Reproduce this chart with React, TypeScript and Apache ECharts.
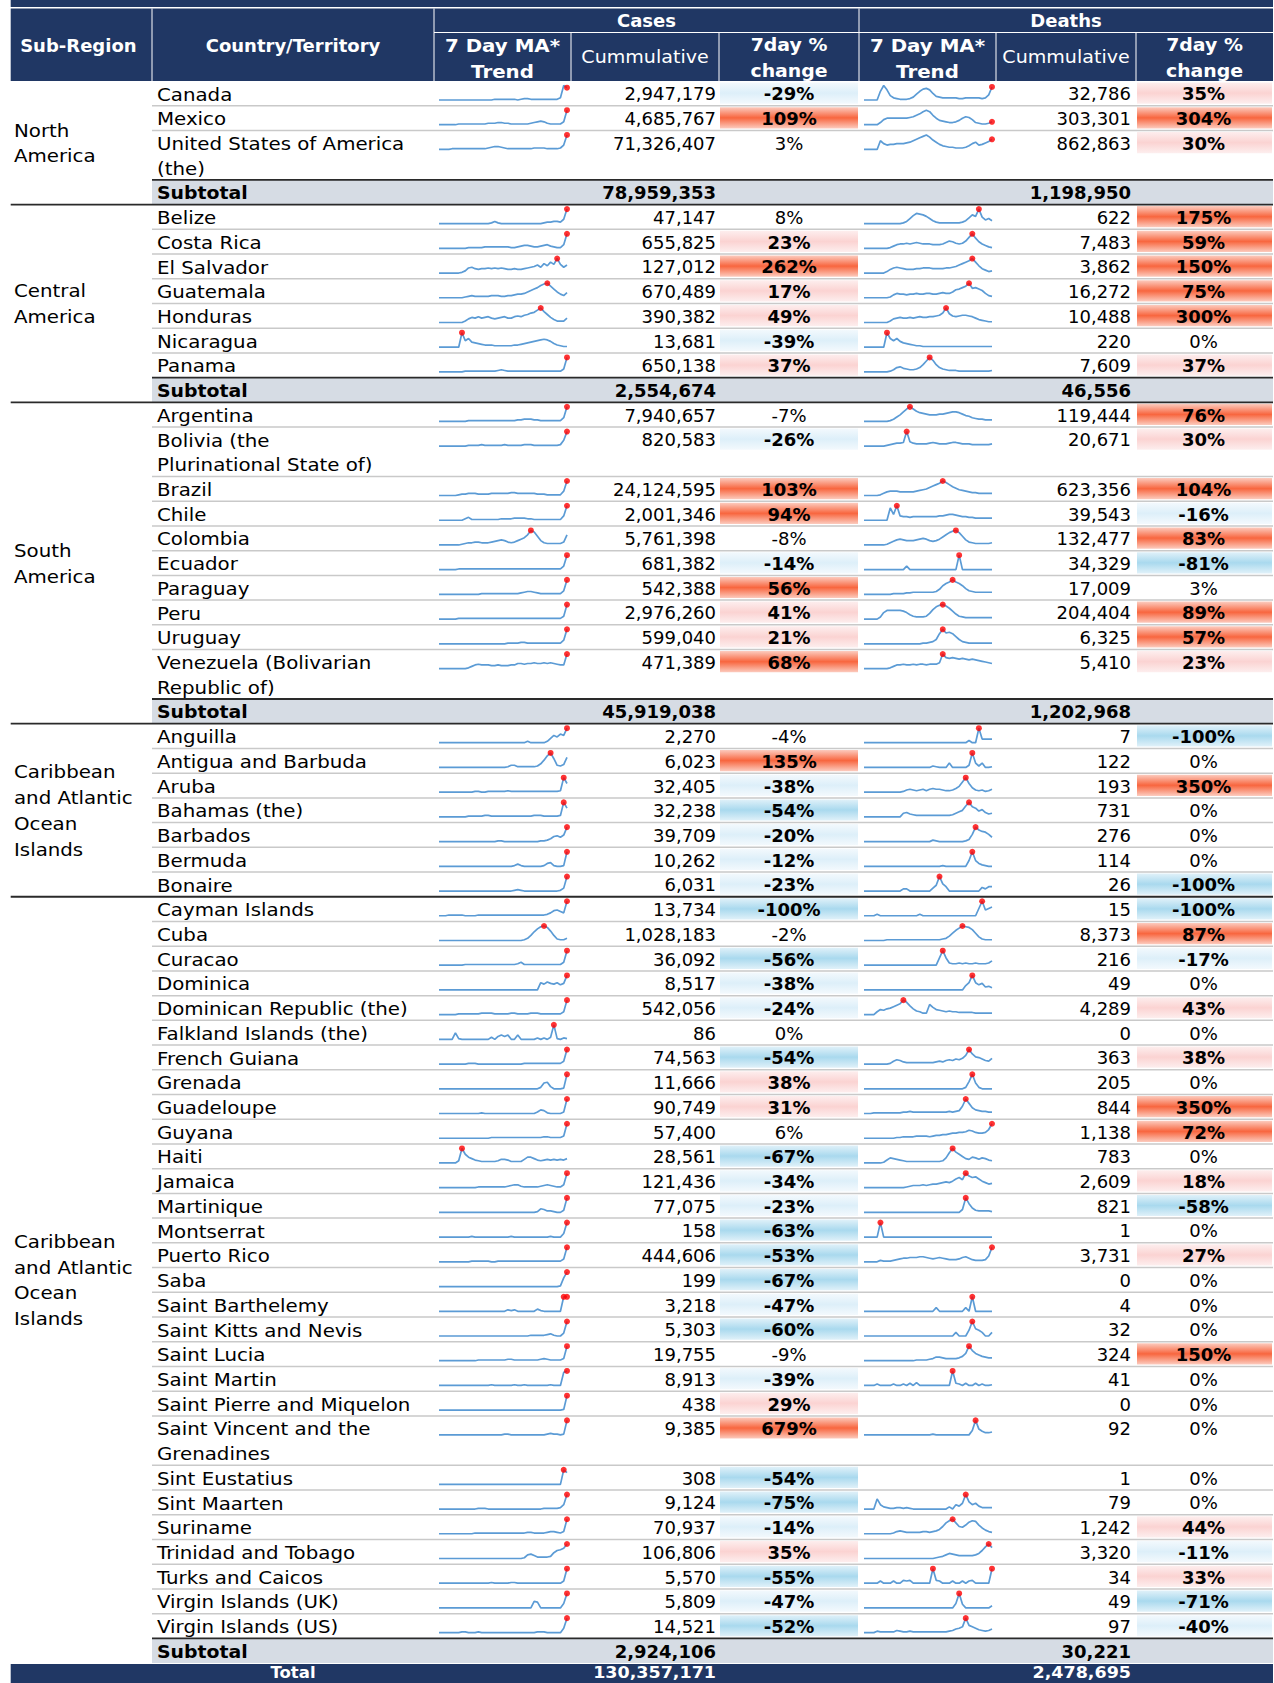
import React, { useEffect, useRef } from "react";
import * as echarts from "echarts";

// ---------------- DATA ----------------
const regionNames: string[] = [
  "North\nAmerica",
  "Central\nAmerica",
  "South\nAmerica",
  "Caribbean\nand Atlantic\nOcean\nIslands",
  "Caribbean\nand Atlantic\nOcean\nIslands",
];
const regionSizes: number[] = [3, 7, 10, 7, 29];
const regionMarker: string[] = ["last", "high", "high", "high", "high"];
const subtotalCases: (number | null)[] = [78959353, 2554674, 45919038, null, 2924106];
const subtotalDeaths: (number | null)[] = [1198950, 46556, 1202968, null, 30221];
const totalCases = 130357171;
const totalDeaths = 2478695;

const countries: string[] = [
  "Canada", "Mexico", "United States of America\n(the)",
  "Belize", "Costa Rica", "El Salvador", "Guatemala", "Honduras", "Nicaragua", "Panama",
  "Argentina", "Bolivia (the\nPlurinational State of)", "Brazil", "Chile", "Colombia", "Ecuador", "Paraguay", "Peru", "Uruguay", "Venezuela (Bolivarian\nRepublic of)",
  "Anguilla", "Antigua and Barbuda", "Aruba", "Bahamas (the)", "Barbados", "Bermuda", "Bonaire",
  "Cayman Islands", "Cuba", "Curacao", "Dominica", "Dominican Republic (the)", "Falkland Islands (the)", "French Guiana", "Grenada", "Guadeloupe", "Guyana",
  "Haiti", "Jamaica", "Martinique", "Montserrat", "Puerto Rico", "Saba", "Saint Barthelemy", "Saint Kitts and Nevis", "Saint Lucia", "Saint Martin",
  "Saint Pierre and Miquelon", "Saint Vincent and the\nGrenadines", "Sint Eustatius", "Sint Maarten", "Suriname", "Trinidad and Tobago", "Turks and Caicos", "Virgin Islands (UK)", "Virgin Islands (US)",
];

const cumCases: number[] = [
  2947179, 4685767, 71326407,
  47147, 655825, 127012, 670489, 390382, 13681, 650138,
  7940657, 820583, 24124595, 2001346, 5761398, 681382, 542388, 2976260, 599040, 471389,
  2270, 6023, 32405, 32238, 39709, 10262, 6031,
  13734, 1028183, 36092, 8517, 542056, 86, 74563, 11666, 90749, 57400,
  28561, 121436, 77075, 158, 444606, 199, 3218, 5303, 19755, 8913,
  438, 9385, 308, 9124, 70937, 106806, 5570, 5809, 14521,
];
const casesPct: number[] = [
  -29, 109, 3,
  8, 23, 262, 17, 49, -39, 37,
  -7, -26, 103, 94, -8, -14, 56, 41, 21, 68,
  -4, 135, -38, -54, -20, -12, -23,
  -100, -2, -56, -38, -24, 0, -54, 38, 31, 6,
  -67, -34, -23, -63, -53, -67, -47, -60, -9, -39,
  29, 679, -54, -75, -14, 35, -55, -47, -52,
];
const cumDeaths: number[] = [
  32786, 303301, 862863,
  622, 7483, 3862, 16272, 10488, 220, 7609,
  119444, 20671, 623356, 39543, 132477, 34329, 17009, 204404, 6325, 5410,
  7, 122, 193, 731, 276, 114, 26,
  15, 8373, 216, 49, 4289, 0, 363, 205, 844, 1138,
  783, 2609, 821, 1, 3731, 0, 4, 32, 324, 41,
  0, 92, 1, 79, 1242, 3320, 34, 49, 97,
];
const deathsPct: number[] = [
  35, 304, 30,
  175, 59, 150, 75, 300, 0, 37,
  76, 30, 104, -16, 83, -81, 3, 89, 57, 23,
  -100, 0, 350, 0, 0, 0, -100,
  -100, 87, -17, 0, 43, 0, 38, 0, 350, 72,
  0, 18, -58, 0, 27, 0, 0, 0, 150, 0,
  0, 0, 0, 0, 44, -11, 33, -71, -40,
];

// 7 day moving average trend (relative scale 0-20)
const casesTrend: number[][] = [
  [0,0,0,0,0,0,0,0,0,0, 0,0,0,0,0,0,0,1,1,1, 1,1,1,1,0,1,2,2,1,1, 1,1,1,1,1,1,1,3,20,17],
  [0,0,0,0,0,0,1,1,1,1, 1,1,1,1,1,2,2,2,3,3, 2,2,1,1,1,1,1,1,2,3, 4,5,4,2,1,1,1,1,4,20],
  [0,0,0,0,1,1,1,1,1,1, 1,1,1,1,1,2,3,4,4,3, 2,1,1,1,1,1,1,1,1,2, 2,2,2,1,1,1,1,2,6,20],
  [0,0,0,0,0,0,0,0,0,0, 0,0,0,0,0,0,1,3,1,0, 0,0,0,0,0,0,0,0,0,0, 0,0,1,2,2,3,3,2,6,20],
  [0,0,0,0,0,0,0,0,0,1, 1,1,1,1,2,2,2,2,2,2, 2,2,1,1,2,3,4,4,3,2, 2,3,4,5,3,2,1,1,5,20],
  [0,0,0,0,0,0,0,1,3,7, 8,6,5,6,6,7,6,7,6,7, 6,5,5,6,5,5,6,7,8,9, 11,8,13,10,15,12,20,12,8,11],
  [0,0,0,0,0,0,0,0,1,2, 3,2,2,2,2,2,3,3,3,2, 2,3,3,4,5,5,6,8,10,12, 14,17,19,20,16,12,8,5,3,7],
  [0,0,0,0,0,0,0,0,2,5, 7,6,8,6,7,8,6,5,6,7, 8,6,6,8,9,8,10,11,13,14, 17,20,15,11,7,4,2,2,2,6],
  [0,0,0,0,0,0,0,20,9,12, 7,6,5,4,3,3,3,2,2,2, 2,2,2,3,3,4,5,6,7,8, 9,10,11,10,8,5,3,2,1,1],
  [0,0,0,0,0,0,0,0,1,1, 1,1,1,1,1,1,1,1,2,3, 2,1,1,1,1,1,1,1,1,1, 1,1,1,1,1,1,1,1,4,20],
  [0,0,0,0,0,0,0,0,0,1, 1,1,1,1,1,1,1,1,1,1, 1,1,1,1,2,2,3,3,3,2, 2,1,1,1,1,1,1,1,5,20],
  [0,0,0,0,0,0,0,0,0,1, 1,1,1,2,1,1,1,1,1,1, 2,1,1,1,1,1,2,2,2,1, 1,1,1,1,1,1,1,2,8,20],
  [0,0,0,0,0,0,1,2,2,3, 3,3,2,2,2,2,3,3,3,3, 3,3,4,4,3,3,3,3,3,3, 2,2,2,1,1,1,1,1,6,20],
  [0,0,0,0,0,0,0,0,2,4, 1,1,1,1,1,1,1,1,1,2, 2,2,2,3,3,3,3,2,2,1, 1,1,1,1,1,1,1,1,6,20],
  [0,0,0,0,0,0,0,1,2,3, 3,4,4,3,3,3,4,5,6,7, 6,4,3,4,6,8,10,14,20,18, 12,6,3,2,2,2,2,2,4,14],
  [0,0,0,0,0,0,1,1,1,1, 1,1,1,1,1,1,1,1,1,1, 1,1,1,1,1,1,1,1,1,1, 1,1,1,1,1,1,1,1,5,20],
  [0,0,0,0,0,0,0,0,0,0, 0,0,0,1,1,1,1,1,1,1, 1,1,1,1,1,2,3,4,4,3, 2,1,1,1,1,1,1,1,5,20],
  [0,0,0,0,0,0,1,1,1,1, 1,1,1,1,1,1,1,1,1,1, 1,1,1,1,1,1,1,1,1,1, 1,1,1,1,1,1,1,1,4,20],
  [0,0,0,0,0,0,0,0,0,0, 0,0,0,0,0,0,0,0,0,0, 0,1,1,1,1,2,2,1,1,1, 1,1,1,1,1,1,1,1,5,20],
  [0,0,0,0,0,0,0,0,0,1, 3,5,6,5,5,5,4,4,5,4, 4,4,5,5,7,7,6,7,7,8, 7,7,8,7,8,7,6,5,5,20],
  [0,0,0,0,0,0,0,0,0,0, 0,0,0,0,0,0,0,0,0,0, 0,0,0,0,0,0,0,2,0,0, 0,0,0,2,6,10,8,12,10,20],
  [0,0,0,0,0,0,0,0,0,0, 0,0,0,0,0,0,0,0,0,0, 0,1,3,3,1,1,1,1,1,1, 2,5,10,16,20,12,3,2,4,14],
  [0,0,0,0,0,0,0,0,0,0, 0,1,1,0,0,1,1,1,1,1, 1,2,1,1,1,1,1,1,1,1, 1,1,1,1,1,1,1,2,20,12],
  [0,0,0,0,0,0,0,0,0,1, 1,1,1,1,2,2,1,1,1,1, 1,1,1,1,1,1,1,1,1,2, 2,2,1,1,1,1,1,2,20,12],
  [0,0,0,0,0,0,0,0,0,0, 0,0,0,0,0,0,0,0,1,1, 0,0,0,0,0,0,0,0,0,0, 0,1,1,2,4,7,8,6,9,20],
  [0,0,0,0,0,0,0,0,0,0, 0,0,0,0,0,0,0,0,0,0, 0,0,0,1,3,1,0,0,0,0, 0,0,1,4,5,1,0,0,1,20],
  [0,0,0,0,0,0,0,0,0,0, 0,0,0,0,0,0,0,0,0,0, 0,0,0,1,2,1,0,0,0,0, 0,0,0,0,0,0,0,1,4,20],
  [0,0,0,1,1,1,1,1,0,0, 0,0,1,1,1,1,1,1,1,1, 1,1,1,1,1,1,1,1,1,1, 1,1,1,2,4,7,8,6,4,20],
  [0,0,0,0,0,0,0,0,0,0, 0,0,0,0,0,0,0,0,0,0, 0,0,0,0,0,0,1,3,7,12, 16,19,20,18,13,7,2,1,1,3],
  [0,0,0,0,0,0,0,0,1,1, 1,1,1,1,1,1,1,1,1,1, 1,1,1,1,2,4,1,1,1,1, 1,1,1,1,1,1,1,1,4,20],
  [0,0,0,0,0,0,0,0,0,0, 0,0,0,0,0,0,0,0,0,0, 0,0,0,0,0,0,0,0,0,0, 0,10,8,11,9,8,10,7,9,20],
  [0,0,0,0,0,0,1,1,1,1, 1,1,1,2,2,2,2,1,1,1, 1,1,2,2,1,1,1,1,2,2, 2,1,1,1,1,1,1,1,4,20],
  [0,0,0,0,0,9,1,0,0,0, 0,0,0,0,0,0,3,0,4,6, 4,6,0,0,6,0,0,0,0,0, 2,0,2,0,3,20,1,0,2,1],
  [0,0,0,0,0,0,0,0,0,1, 1,1,0,0,0,0,0,0,0,0, 0,0,0,0,0,0,1,1,1,1, 1,1,1,1,1,1,1,1,4,20],
  [0,0,0,0,0,0,0,0,0,0, 0,0,0,0,0,0,0,0,0,0, 0,0,0,0,0,0,0,0,0,0, 0,2,8,9,3,0,0,0,1,20],
  [0,0,0,0,0,0,0,0,0,0, 0,0,0,1,0,0,0,0,0,0, 0,0,0,0,0,0,0,0,0,0, 2,5,4,1,0,0,0,0,2,20],
  [0,0,0,0,0,0,0,0,0,0, 0,0,0,0,0,0,1,1,1,1, 1,1,1,1,1,1,1,1,1,1, 1,1,2,2,1,1,1,1,3,20],
  [0,0,0,0,0,0,3,20,12,8, 6,4,3,2,2,2,2,2,3,5, 5,4,2,2,2,2,5,8,8,6, 4,3,4,5,4,5,4,5,4,6],
  [0,0,0,0,0,0,0,0,0,0, 0,0,1,1,1,1,1,1,1,1, 1,2,3,4,4,2,1,1,1,1, 1,2,3,4,3,2,1,1,4,20],
  [0,0,0,0,0,0,0,0,0,0, 0,0,0,0,0,0,0,0,0,0, 0,0,0,0,0,0,0,0,0,0, 1,5,4,2,2,1,0,0,3,20],
  [0,0,0,0,0,0,0,0,0,0, 1,0,0,0,0,0,0,0,0,0, 0,0,1,0,0,0,0,0,0,0, 0,0,0,0,1,0,0,0,5,20],
  [0,0,0,0,0,0,0,0,0,0, 1,1,1,1,1,1,0,0,1,1, 1,1,1,1,1,1,1,1,1,1, 1,1,1,1,1,1,1,1,4,20],
  [0,0,0,0,0,0,0,0,0,0, 0,0,0,0,0,0,0,0,0,0, 0,0,0,0,0,0,0,0,0,0, 0,0,0,0,0,0,0,1,12,20],
  [0,0,0,0,0,0,0,0,0,0, 0,0,0,0,0,0,0,0,0,0, 0,2,1,2,0,0,0,0,0,0, 3,1,0,0,0,0,0,0,20,20],
  [0,0,0,0,0,0,0,0,0,0, 0,0,0,0,0,0,0,0,0,0, 0,0,0,0,0,0,0,0,1,1, 1,1,1,2,3,1,0,0,4,20],
  [0,0,0,0,0,0,0,0,0,0, 0,0,1,1,1,1,1,1,1,1, 1,2,2,1,1,1,1,1,1,1, 1,2,3,2,1,1,1,1,3,20],
  [0,0,0,0,0,0,0,0,0,0, 0,0,0,0,0,0,1,0,0,0, 0,0,0,1,0,0,1,0,0,0, 0,0,0,0,1,0,0,0,18,20],
  [0,0,0,0,0,0,0,0,0,0, 0,0,0,0,0,0,0,0,0,0, 0,0,0,0,0,0,0,0,0,0, 0,0,0,0,0,0,0,0,1,20],
  [0,0,0,0,0,0,0,0,0,0, 0,0,0,0,0,0,0,0,0,0, 1,1,0,0,0,0,0,0,0,0, 0,0,0,1,2,1,1,0,1,20],
  [0,0,0,0,0,0,0,0,0,0, 0,0,0,0,0,0,0,0,0,0, 0,0,0,0,0,0,0,0,0,0, 0,0,0,0,0,0,0,0,20,16],
  [0,0,0,0,0,0,0,0,0,0, 0,0,1,1,1,0,0,0,0,0, 0,0,0,0,0,0,0,0,0,0, 0,0,1,1,1,1,1,2,6,20],
  [0,0,0,0,0,0,0,0,0,0, 0,1,1,1,1,1,1,1,1,1, 1,1,1,1,1,1,1,2,2,1, 1,1,1,2,3,3,2,1,3,20],
  [0,0,0,0,0,0,0,0,0,0, 0,0,0,0,0,0,0,0,0,0, 0,0,0,0,0,0,1,5,6,4, 2,2,2,2,3,8,11,12,14,20],
  [0,0,0,0,0,0,0,0,0,0, 0,0,0,0,0,0,1,0,0,0, 0,0,1,1,0,0,0,0,0,0, 0,0,0,0,0,0,0,0,3,20],
  [0,0,0,0,0,0,0,0,0,0, 0,0,0,0,0,0,0,0,0,0, 0,0,0,0,0,0,0,0,0,9, 8,0,0,0,0,0,0,0,6,20],
  [0,0,0,0,0,0,0,1,1,0, 0,0,1,0,0,0,0,0,0,0, 0,0,0,0,0,0,0,0,0,0, 1,1,1,0,0,0,0,0,6,20],
];

const deathsTrend: number[][] = [
  [0,0,0,0,0,12,20,14,6,3, 2,1,1,1,2,4,8,12,15,16, 14,9,5,4,3,3,3,3,3,2, 2,3,3,3,3,3,2,3,7,18],
  [0,0,0,0,0,3,7,9,9,9, 9,9,9,9,10,11,13,15,18,20, 18,13,9,6,5,4,3,3,4,6, 9,11,10,7,3,2,1,1,2,4],
  [0,0,0,0,0,12,8,6,7,7, 8,8,8,9,10,12,14,16,18,20, 17,13,10,7,5,4,3,3,2,2, 2,3,5,8,10,6,7,9,11,14],
  [0,0,0,0,0,0,0,0,0,0, 0,0,1,3,7,11,14,13,12,10, 7,4,2,1,1,1,1,1,1,1, 2,4,8,12,10,20,9,5,7,4],
  [0,0,0,0,0,0,0,0,1,3, 5,6,6,7,6,7,8,7,6,6, 6,5,5,5,6,8,10,9,7,6, 7,10,15,20,14,9,6,4,2,1],
  [0,0,0,0,0,0,0,2,5,7, 8,7,6,5,5,5,6,6,7,7, 7,6,6,6,6,7,7,8,9,11, 13,15,17,20,15,10,6,4,2,3],
  [0,0,0,0,0,0,0,0,1,4, 6,5,5,4,5,5,6,5,5,6, 6,5,5,6,7,6,6,8,11,12, 14,16,20,13,14,12,10,6,3,2],
  [0,0,0,0,0,0,0,0,2,5, 6,7,6,6,7,6,7,8,7,7, 8,8,9,10,13,20,12,9,8,9, 10,10,9,8,6,4,3,2,1,1],
  [0,0,0,0,0,0,0,20,12,9, 12,8,6,5,4,3,2,2,1,1, 1,1,1,1,1,1,1,1,1,1, 1,1,1,1,1,1,1,1,1,1],
  [0,0,0,0,0,0,0,0,1,3, 6,7,5,4,3,3,4,6,10,15, 20,16,10,6,4,3,2,2,2,1, 1,1,1,1,1,1,1,1,1,2],
  [0,0,0,0,0,0,0,0,1,3, 6,9,13,17,20,17,14,12,11,10, 9,9,9,10,10,11,12,13,13,12, 10,8,7,5,4,3,3,2,2,2],
  [0,0,0,0,0,0,0,1,2,3, 4,4,5,20,6,4,3,3,3,3, 4,5,4,3,3,3,4,5,5,4, 3,3,3,2,2,2,2,2,2,3],
  [0,0,0,0,0,1,3,5,6,6, 6,5,5,5,5,5,6,7,8,9, 11,13,15,17,20,18,15,12,10,8, 7,6,5,4,4,3,3,3,3,3],
  [0,0,0,0,0,0,0,0,17,8, 20,6,5,5,4,5,5,5,5,5, 5,5,5,6,6,7,8,8,7,6, 5,5,4,4,3,3,3,3,3,3],
  [0,0,0,0,0,0,0,1,3,5, 7,8,7,6,6,6,7,8,9,8, 6,5,6,8,11,14,17,19,20,17, 12,7,4,3,2,2,2,2,2,3],
  [0,0,0,0,0,0,0,0,0,0, 0,0,0,5,0,0,0,0,0,0, 0,0,0,0,0,0,0,0,0,20, 0,0,0,0,0,0,0,0,0,0],
  [0,0,0,0,0,0,0,0,0,1, 1,1,1,2,2,3,3,3,3,3, 3,3,4,7,12,15,17,20,17,15, 12,8,5,4,3,3,3,3,3,3],
  [0,0,0,0,0,3,9,12,12,12, 12,12,11,9,6,4,3,3,3,4, 8,13,17,19,20,18,15,11,7,4, 3,2,2,2,2,2,2,2,2,2],
  [0,0,0,0,0,0,0,0,0,0, 0,0,0,0,0,0,0,0,1,1, 2,3,6,14,20,15,16,14,10,6, 3,2,1,1,1,1,1,1,1,1],
  [0,0,0,0,0,0,0,0,1,3, 5,5,6,5,5,6,5,6,6,5, 6,6,6,8,20,15,14,15,14,13, 14,13,12,13,12,11,10,9,8,7],
  [0,0,0,0,0,0,0,0,0,0, 0,0,0,0,0,0,0,0,0,0, 0,0,0,0,0,0,0,0,0,0, 0,0,3,0,0,20,5,5,5,5],
  [0,0,0,0,0,0,0,0,0,0, 0,0,0,0,0,0,0,0,0,0, 0,2,1,0,0,0,6,0,0,0, 0,0,3,20,6,2,6,0,0,1],
  [0,0,0,0,0,0,0,0,0,0, 0,0,1,3,4,3,2,3,4,2, 4,5,4,4,3,2,2,3,5,8, 14,20,12,6,3,2,3,1,2,4],
  [0,0,0,0,0,0,0,0,0,0, 0,0,5,6,4,3,2,2,2,2, 2,2,2,2,2,2,2,3,5,7, 9,15,20,14,12,8,10,6,4,5],
  [0,0,0,0,0,0,0,0,0,0, 0,0,0,0,0,0,0,0,0,0, 0,2,1,0,0,0,0,0,0,0, 0,1,3,10,20,16,14,13,10,6],
  [0,0,0,0,0,0,0,0,0,0, 0,0,0,0,0,0,0,0,0,0, 0,0,0,0,1,0,0,0,0,0, 0,0,8,20,8,4,2,1,0,0],
  [0,0,0,0,0,0,0,0,0,0, 0,0,3,3,0,0,0,0,0,0, 0,4,8,20,10,6,0,0,0,0, 0,0,0,0,0,0,5,3,6,6],
  [0,0,0,0,2,0,0,0,0,0, 0,0,0,0,0,0,0,2,0,0, 0,0,0,0,0,0,0,0,0,0, 0,0,0,0,0,10,20,8,10,12],
  [0,0,0,0,0,0,0,1,1,1, 1,1,1,1,1,1,1,1,1,1, 1,1,1,1,2,3,6,10,14,17, 20,19,18,15,10,5,2,1,1,1],
  [0,0,0,0,0,0,0,0,0,0, 0,0,0,0,0,0,0,0,0,0, 0,0,0,10,20,10,3,2,2,3, 2,3,2,2,3,2,2,2,3,6],
  [0,0,0,0,0,0,0,0,0,0, 0,0,0,0,0,0,0,0,0,0, 0,0,0,0,0,0,0,0,0,0, 0,6,10,20,10,7,9,4,5,3],
  [0,0,0,0,4,7,6,8,9,11, 13,15,20,17,12,8,5,4,2,2, 14,10,7,6,5,4,5,4,4,3, 3,3,3,3,2,2,2,2,2,2],
  [],
  [0,0,0,0,0,0,0,0,1,4, 6,5,3,2,2,2,2,2,2,2, 2,2,3,4,3,5,6,5,7,6, 8,12,20,14,10,9,7,5,4,8],
  [0,0,0,0,0,0,0,0,0,0, 0,0,0,0,0,0,0,0,0,0, 0,0,0,0,0,0,0,0,0,0, 0,2,10,20,8,2,0,0,0,0],
  [0,0,0,1,1,1,1,1,1,1, 1,1,2,2,3,2,2,2,2,2, 2,2,2,2,2,2,3,2,3,4, 10,20,14,8,5,4,3,3,2,2],
  [0,0,0,0,0,0,0,0,0,0, 1,1,2,2,2,2,3,3,3,3, 2,3,4,4,5,5,6,7,7,8, 8,9,11,10,8,7,7,8,12,20],
  [0,0,0,0,0,0,1,4,7,6, 5,4,3,2,2,2,2,2,2,2, 2,2,2,2,3,7,14,20,15,12, 9,6,5,8,7,5,7,6,4,3],
  [0,0,0,0,0,0,0,0,0,0, 0,0,0,1,2,3,3,3,4,3, 4,5,5,6,7,8,7,9,12,14, 11,20,16,14,15,12,9,7,5,6],
  [0,0,0,0,0,0,0,0,0,0, 0,0,0,0,0,0,0,0,0,0, 0,0,0,0,0,0,0,0,0,0, 4,20,12,6,3,2,2,2,2,1],
  [0,0,0,0,0,20,0,0,0,0, 0,0,0,0,0,0,0,0,0,0, 0,0,0,0,0,0,0,0,0,0, 0,0,0,0,0,0,0,0,0,0],
  [0,0,0,0,0,2,1,1,1,2, 3,4,5,5,6,6,6,7,7,6, 5,4,5,6,5,4,3,3,3,4, 6,7,5,3,2,2,2,3,8,20],
  [],
  [0,0,0,0,0,0,0,0,0,0, 0,0,0,0,0,0,0,0,0,0, 0,0,5,0,0,0,0,0,0,0, 0,5,0,20,0,0,0,0,0,0],
  [0,0,0,0,0,0,0,0,0,0, 0,0,0,0,0,0,0,0,0,0, 0,0,0,0,0,0,0,0,5,0, 0,0,8,20,10,8,5,0,0,5],
  [0,0,0,0,0,0,0,0,0,0, 0,0,0,0,0,0,1,1,1,1, 2,3,5,5,4,3,3,3,3,4, 6,10,20,14,10,8,6,5,4,4],
  [0,0,0,0,2,0,0,0,0,2, 0,0,2,0,3,0,4,0,0,0, 0,0,0,0,0,0,0,20,3,2, 0,3,0,0,3,0,2,0,0,1],
  [],
  [0,0,0,0,0,0,0,0,0,0, 0,0,0,0,0,0,0,0,0,0, 0,1,0,0,0,0,0,0,0,0, 0,0,0,6,20,8,5,3,3,4],
  [],
  [0,0,0,0,14,6,3,2,1,1, 2,2,1,2,1,0,0,0,0,0, 0,0,0,0,0,0,3,0,6,4, 8,20,10,6,8,4,2,2,2,2],
  [0,0,0,0,0,0,0,0,0,1, 3,4,3,2,2,2,2,2,3,3, 2,3,4,6,10,15,18,20,15,10, 9,12,16,18,17,12,8,5,3,2],
  [0,0,0,0,0,0,0,0,0,0, 0,0,0,0,0,0,0,0,0,0, 0,0,1,2,3,5,7,6,5,4, 4,4,4,4,5,7,11,16,20,15],
  [0,0,0,0,0,3,0,0,0,3, 0,0,4,3,4,0,0,0,0,0, 0,20,4,3,0,0,0,3,0,0, 3,0,3,4,0,0,0,0,0,20],
  [0,0,0,0,0,0,0,0,0,0, 0,0,0,0,0,0,0,0,0,0, 0,0,0,0,0,0,0,0,6,20, 5,0,0,0,0,0,0,0,0,3],
  [0,0,0,0,2,1,1,1,1,1, 3,2,1,1,2,1,1,1,1,1, 1,1,1,1,1,1,2,3,5,6, 8,20,10,8,6,4,3,2,3,5],
];

const headerTop: string[] = ["Cases", "Deaths"];
const headerSub: string[] = ["7 Day MA*\nTrend", "Cummulative", "7day %\nchange"];

// ---------------- LAYOUT / STYLE ----------------
const W = 1274;
const H = 1683;
const COL = [10.7, 152, 434, 571, 719, 859, 996, 1136, 1273];
const TOP = 81;
const RH = 24.72;
const NAVY = "#203764";
const DARK = "#2a2a2a";
const LIGHT = "#C9C9C9";
const FONT = '"DejaVu Sans", sans-serif';

function txt(text: string, x: number, y: number, o: any = {}) {
  const align = o.align || "left";
  return {
    type: "text",
    x,
    y,
    scaleX: o.sx || 1,
    z: 10,
    silent: true,
    style: {
      text,
      fill: o.fill || "#000",
      fontSize: o.size || 18,
      fontWeight: o.bold ? "bold" : "normal",
      fontFamily: FONT,
      textAlign: align,
      textVerticalAlign: "middle",
      align,
      verticalAlign: "middle",
    },
  };
}
function rect(x: number, y: number, w: number, h: number, fill: any, z = 0) {
  return { type: "rect", z, silent: true, shape: { x, y, width: w, height: h }, style: { fill } };
}
function hline(x1: number, x2: number, y: number, stroke: string, lw: number) {
  return { type: "line", z: 2, silent: true, shape: { x1, y1: y, x2, y2: y }, style: { stroke, lineWidth: lw } };
}
function vline(x: number, y1: number, y2: number, stroke: string, lw: number) {
  return { type: "line", z: 2, silent: true, shape: { x1: x, y1, x2: x, y2 }, style: { stroke, lineWidth: lw } };
}
function grad(edge: string, center: string) {
  return {
    type: "linear", x: 0, y: 0, x2: 0, y2: 1, global: false,
    colorStops: [
      { offset: 0, color: edge },
      { offset: 0.5, color: center },
      { offset: 1, color: edge },
    ],
  };
}
function pctFill(v: number): any {
  if (v >= 50) return grad("#FCCBBE", "#F8663F");
  if (v >= 10) return grad("#FDEEEE", "#FBD3D2");
  if (v > -10) return null;
  if (v > -50) return grad("#F3F9FD", "#DDEFF9");
  return grad("#E0F1F9", "#A9D9EE");
}
const fmt = (n: number) => n.toLocaleString("en-US");

function buildOption() {
  const els: any[] = [];
  const grids: any[] = [];
  const xAxes: any[] = [];
  const yAxes: any[] = [];
  const series: any[] = [];

  // header
  els.push(rect(COL[0], 0, COL[8] - COL[0], 7, NAVY));
  els.push(rect(COL[0], 8.5, COL[8] - COL[0], TOP - 8.5, NAVY));
  els.push(vline(COL[1], 8.5, TOP, "#fff", 1));
  els.push(vline(COL[2], 8.5, TOP, "#fff", 1));
  els.push(vline(COL[5], 8.5, TOP, "#fff", 1));
  [COL[3], COL[4], COL[6], COL[7]].forEach((x) => els.push(vline(x, 33, TOP, "#fff", 1)));
  els.push(hline(COL[2], COL[8], 32.5, "#fff", 1));
  els.push(txt("Sub-Region", (COL[0] + COL[1]) / 2 - 3, 45, { align: "center", bold: true, fill: "#fff" }));
  els.push(txt("Country/Territory", (COL[1] + COL[2]) / 2, 45, { align: "center", bold: true, fill: "#fff" }));
  headerTop.forEach((t, gi) => {
    const c0 = gi === 0 ? 2 : 5;
    els.push(txt(t, (COL[c0] + COL[c0 + 3]) / 2, 20.5, { align: "center", bold: true, fill: "#fff" }));
    headerSub.forEach((s, si) => {
      const cx = (COL[c0 + si] + COL[c0 + si + 1]) / 2;
      const lines = s.split("\n");
      if (lines.length === 1) {
        els.push(txt(lines[0], cx, 57, { align: "center", fill: "#fff", sx: 1.06 }));
      } else {
        lines.forEach((ln, li) =>
          els.push(txt(ln, cx, 45 + li * 26, { align: "center", bold: true, fill: "#fff", sx: si === 0 ? 1.1 : 1.05 }))
        );
      }
    });
  });

  // body
  let y = TOP;
  let ci = 0;
  const spark = (arr: number[], left: number, width: number, top: number, mode: string) => {
    if (!arr.length) return;
    const gi = grids.length;
    grids.push({ left, top, width, height: 14.5, show: false });
    xAxes.push({ type: "value", gridIndex: gi, min: 0, max: arr.length - 1, show: false });
    yAxes.push({ type: "value", gridIndex: gi, min: 0, max: 20, show: false });
    series.push({
      type: "line", xAxisIndex: gi, yAxisIndex: gi, silent: true, clip: false,
      data: arr.map((v, i) => [i, v]), showSymbol: false, symbol: "none",
      lineStyle: { color: "#5B9BD5", width: 1.7 }, z: 3,
    });
    const mx = Math.max(...arr);
    const dots = mode === "last"
      ? [[arr.length - 1, arr[arr.length - 1]]]
      : arr.map((v, i) => [i, v]).filter((p) => p[1] === mx);
    series.push({
      type: "scatter", xAxisIndex: gi, yAxisIndex: gi, silent: true, clip: false,
      data: dots, symbolSize: 6, itemStyle: { color: "#FF0000" }, z: 4,
    });
  };

  regionSizes.forEach((n, r) => {
    const gTop = y;
    for (let k = 0; k < n; k++, ci++) {
      const lines = countries[ci].split("\n");
      const h = lines.length * RH;
      const cy = y + RH / 2 + 0.5;
      lines.forEach((ln, li) => els.push(txt(ln, 157, cy + li * RH, { sx: 1.1 })));
      els.push(txt(fmt(cumCases[ci]), 716, cy, { align: "right" }));
      els.push(txt(fmt(cumDeaths[ci]), 1131, cy, { align: "right" }));
      const cf = pctFill(casesPct[ci]);
      if (cf) els.push(rect(COL[4] + 1, y + 1.5, COL[5] - COL[4] - 2, RH - 3.5, cf));
      els.push(txt(casesPct[ci] + "%", (COL[4] + COL[5]) / 2, cy, { align: "center", bold: !!cf }));
      const df = pctFill(deathsPct[ci]);
      if (df) els.push(rect(COL[7] + 1, y + 1.5, COL[8] - COL[7] - 2, RH - 3.5, df));
      els.push(txt(deathsPct[ci] + "%", (COL[7] + COL[8]) / 2 - 1, cy, { align: "center", bold: !!df }));
      spark(casesTrend[ci], 439, 128, y + 4.5, regionMarker[r]);
      spark(deathsTrend[ci], 864, 128, y + 4.5, regionMarker[r]);
      if (k < n - 1) els.push(hline(COL[1], COL[8], y + h, LIGHT, 1.5));
      y += h;
    }
    const st = subtotalCases[r];
    if (st != null) {
      els.push(rect(COL[1], y, COL[8] - COL[1], RH, "#D6DCE4"));
      els.push(hline(COL[1], COL[8], y, DARK, 1.8));
      const cy = y + RH / 2 + 0.5;
      els.push(txt("Subtotal", 157, cy, { bold: true, sx: 1.05 }));
      els.push(txt(fmt(st), 716, cy, { align: "right", bold: true }));
      els.push(txt(fmt(subtotalDeaths[r] as number), 1131, cy, { align: "right", bold: true }));
      y += RH;
    }
    if (r < regionSizes.length - 1) els.push(hline(COL[0], COL[8], y, DARK, 1.8));
    const rl = regionNames[r].split("\n");
    const mid = (gTop + y) / 2;
    rl.forEach((ln, li) => els.push(txt(ln, 14, mid + (li - (rl.length - 1) / 2) * 25.8, { sx: 1.1 })));
  });

  // total
  els.push(rect(COL[0], y + 1, COL[8] - COL[0], H - y, NAVY));
  const ty = y + 9.5;
  els.push(txt("Total", (COL[1] + COL[2]) / 2, ty, { align: "center", bold: true, fill: "#fff", size: 16.5 }));
  els.push(txt(fmt(totalCases), 716, ty, { align: "right", bold: true, fill: "#fff", size: 16.5, sx: 1.06 }));
  els.push(txt(fmt(totalDeaths), 1131, ty, { align: "right", bold: true, fill: "#fff", size: 16.5, sx: 1.06 }));

  return {
    animation: false,
    backgroundColor: "#ffffff",
    grid: grids,
    xAxis: xAxes,
    yAxis: yAxes,
    series,
    graphic: { elements: els },
  };
}

export default function App() {
  const ref = useRef<HTMLDivElement>(null);
  useEffect(() => {
    document.body.style.margin = "0";
    document.body.style.overflow = "hidden";
    const chart = echarts.init(ref.current as HTMLDivElement, null, { renderer: "svg" });
    chart.setOption(buildOption() as any);
    return () => chart.dispose();
  }, []);
  return <div ref={ref} style={{ width: W, height: H, background: "#fff" }} />;
}
